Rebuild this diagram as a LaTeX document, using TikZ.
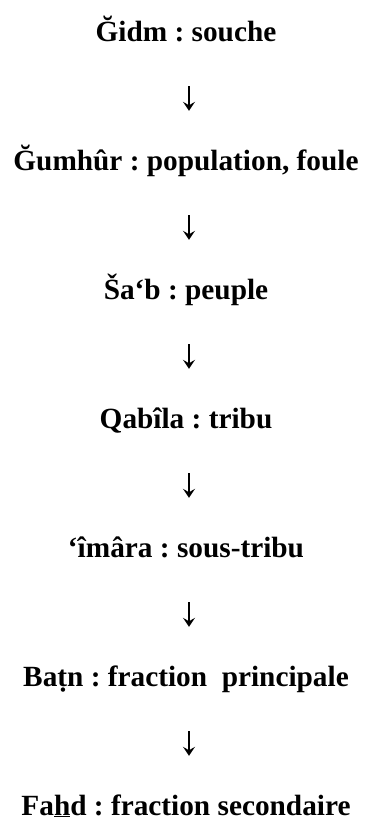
\documentclass[tikz,border=0pt]{standalone}
\usepackage{fontspec}
\setmainfont{Liberation Serif}
\usetikzlibrary{arrows.meta}

\tikzset{
  term/.style={anchor=base, inner sep=0pt, text height=27pt, text depth=7pt,
    font=\fontsize{29.3}{35}\selectfont\bfseries\frenchspacing},
  down/.style={line width=1.5pt, -{Stealth[length=9pt,width=12pt,inset=3.5pt]},
    shorten <=38pt, shorten >=32pt}
}

\begin{document}
\begin{tikzpicture}[x=1pt,y=-1pt]
  \useasboundingbox (0,0) rectangle (370,825);
  % hierarchy of kinship groups, from the widest to the narrowest
  \node[term] (g1) at (186,41)    {Ğidm : souche};
  \node[term] (g2) at (186,170)   {Ğumhûr : population, foule};
  \node[term] (g3) at (186,299)   {Ša‘b : peuple};
  \node[term] (g4) at (186,428)   {Qabîla : tribu};
  \node[term] (g5) at (186,557)   {‘îmâra : sous-tribu};
  \node[term] (g6) at (186,686)   {Ba\d{t}n : fraction\ \ principale};
  \node[term] (g7) at (186,815)   {Fa\underline{h}d : fraction secondaire};
  % each group splits into the next one
  \foreach \a/\b in {g1/g2,g2/g3,g3/g4,g4/g5,g5/g6,g6/g7}
    \draw[down] ([xshift=3pt]\a.south) -- ([xshift=3pt]\b.north);
\end{tikzpicture}
\end{document}
